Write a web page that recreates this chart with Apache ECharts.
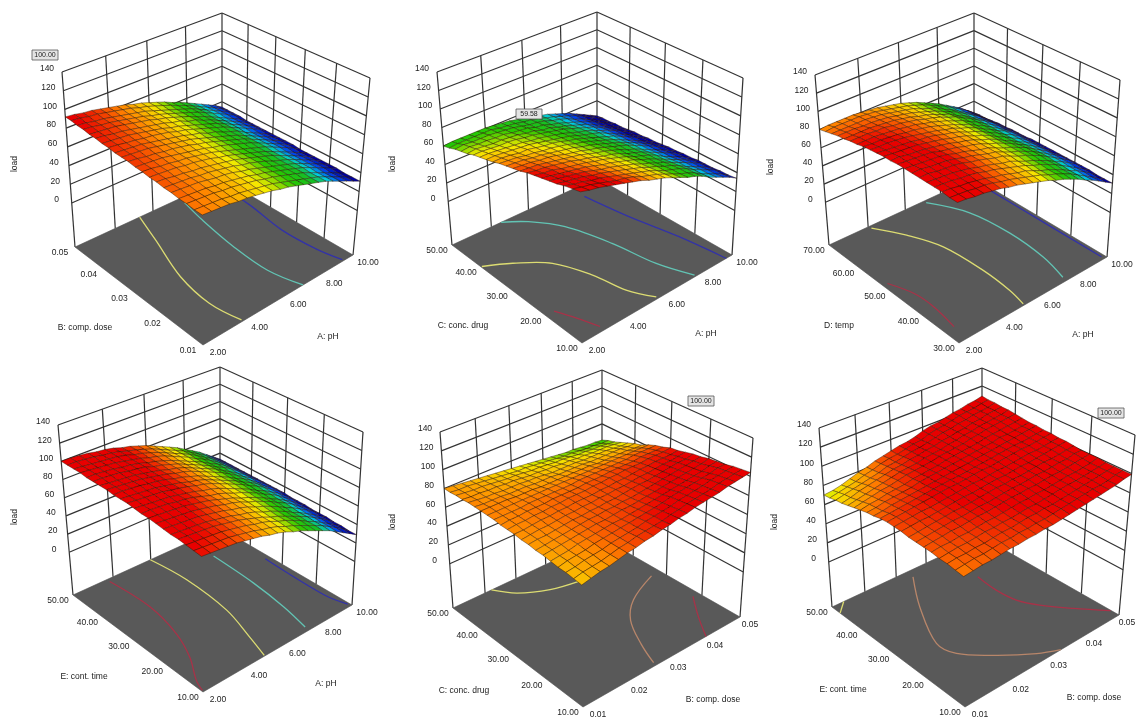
<!DOCTYPE html>
<html>
<head>
<meta charset="utf-8">
<title>load response surfaces</title>
<script src="https://cdn.jsdelivr.net/npm/echarts@6/dist/echarts.min.js"></script>
<style>
html,body{margin:0;padding:0;background:#fff;}
#main{width:1137px;height:722px;filter:blur(0.45px);}
</style>
</head>
<body>
<div id="main"></div>
<script>
// tick labels
var zTicks = [0, 20, 40, 60, 80, 100, 120, 140];
var phTicks = ['2.00', '4.00', '6.00', '8.00', '10.00'];
var doseTicks = ['0.01', '0.02', '0.03', '0.04', '0.05'];
var concTicks = ['10.00', '20.00', '30.00', '40.00', '50.00'];
var tempTicks = ['30.00', '40.00', '50.00', '60.00', '70.00'];
var timeTicks = ['10.00', '20.00', '30.00', '40.00', '50.00'];

// load values, rows run from the front edge to the left wall, columns from the front edge to the right wall
var load1 = [
[83,82,81,80,78,77,75,73,71,68,66,63,60,57,54,51,47,43,39,35,31],
[83,82,81,80,78,77,75,73,71,69,66,63,60,57,54,51,47,43,39,35,31],
[84,83,82,81,79,78,76,74,72,69,67,64,61,58,55,51,47,43,39,35,31],
[84,83,82,81,79,78,76,74,72,69,67,64,61,58,55,52,48,44,40,36,32],
[85,84,83,82,80,78,77,75,72,70,67,64,61,58,55,52,48,44,40,36,32],
[85,84,83,82,80,79,77,75,73,70,68,65,62,58,55,52,48,44,40,36,32],
[86,85,83,82,80,79,77,75,73,71,68,65,62,59,56,52,48,44,40,36,32],
[86,85,84,83,81,80,78,76,73,71,68,65,62,59,56,52,48,44,40,36,32],
[87,86,84,83,81,80,78,76,74,71,68,65,62,59,56,53,49,45,41,37,32],
[87,86,85,84,82,80,78,76,74,71,69,66,63,60,57,53,49,45,41,37,33],
[88,87,85,84,82,81,79,77,74,72,69,66,63,60,57,53,49,45,41,37,33],
[88,87,86,85,83,81,79,77,75,72,69,66,63,60,57,53,49,45,41,37,33],
[88,87,86,85,83,81,79,77,75,72,70,66,64,60,57,54,49,45,41,37,33],
[89,88,86,85,83,82,80,78,75,73,70,67,64,61,58,54,50,46,42,38,33],
[89,88,87,86,84,82,80,78,75,73,70,67,64,61,58,54,50,46,42,38,33],
[90,89,87,86,84,82,80,78,76,73,71,67,65,61,58,54,50,46,42,38,33],
[90,89,88,87,85,83,81,79,76,74,71,68,65,61,58,54,50,46,42,38,33],
[91,90,88,87,85,83,81,79,76,74,71,68,65,62,59,55,51,47,43,39,34],
[91,90,88,87,85,83,81,79,77,74,71,68,65,62,59,55,51,47,43,39,34],
[92,91,89,88,86,84,82,80,77,75,72,69,66,62,59,55,51,47,43,39,34],
[92,91,89,88,86,84,82,80,77,75,72,69,66,62,59,55,51,47,43,39,34]
];
var load2 = [
[105,102,100,97,94,91,88,85,81,78,75,71,67,63,60,56,51,47,43,39,34],
[103,100,98,95,92,89,87,84,80,77,74,70,66,62,59,55,50,46,42,38,33],
[101,98,96,93,91,88,85,82,79,76,73,69,65,62,59,55,50,46,42,38,33],
[98,96,94,92,89,87,84,81,78,75,72,68,65,61,58,54,49,45,41,37,32],
[96,94,92,90,88,85,82,80,77,74,71,67,64,60,57,53,49,45,41,37,32],
[94,92,90,88,86,84,81,78,76,73,70,67,63,60,56,52,48,44,40,36,32],
[92,90,89,86,84,82,80,77,75,72,69,66,62,59,56,52,47,43,39,35,31],
[90,88,87,85,83,81,78,76,73,70,68,65,61,58,55,51,47,43,39,35,31],
[87,86,85,83,81,79,77,75,72,69,67,64,61,57,54,50,46,42,38,34,30],
[85,84,83,81,80,78,75,73,71,68,66,63,60,57,54,50,46,42,38,34,30],
[83,82,81,79,78,76,74,72,70,67,65,62,59,56,53,49,45,41,37,33,29],
[81,80,79,77,76,74,73,71,69,66,64,61,58,55,52,48,44,40,36,32,28],
[78,78,77,75,75,73,71,70,68,65,63,60,57,54,51,48,44,40,36,32,28],
[76,76,75,74,73,72,70,68,66,64,62,59,56,54,51,47,43,39,35,31,27],
[74,74,73,72,71,70,68,67,65,63,61,58,55,53,50,46,43,39,35,31,27],
[72,72,71,70,70,69,67,66,64,62,60,58,55,52,49,46,42,38,34,30,26],
[69,70,69,68,68,67,66,64,63,60,59,56,54,51,48,45,41,37,33,29,25],
[67,68,67,67,66,66,64,63,62,59,58,55,53,50,47,44,41,37,33,29,25],
[65,66,65,65,65,64,63,62,60,58,57,55,52,50,47,43,40,36,32,28,24],
[62,63,63,63,63,63,61,60,59,57,56,54,51,49,46,43,40,36,32,28,24],
[60,61,61,61,61,61,60,59,58,56,55,53,50,48,45,42,39,35,31,27,23]
];
var load3 = [
[95,94,92,91,89,87,84,82,79,76,73,70,66,63,59,55,50,46,41,36,31],
[95,94,93,91,90,88,85,83,80,77,74,71,67,64,60,56,51,46,41,36,31],
[96,95,93,92,90,88,85,83,80,77,75,71,67,64,60,56,51,47,42,37,31],
[96,95,94,92,91,89,86,84,81,78,75,72,68,65,61,57,52,47,42,37,32],
[96,95,94,93,91,89,86,84,81,78,76,72,68,65,61,57,52,48,43,38,32],
[96,96,94,93,92,90,87,85,82,79,77,73,69,66,62,58,53,48,43,38,32],
[96,96,94,93,92,90,87,85,82,79,77,73,69,66,62,58,53,48,43,38,32],
[96,95,94,93,92,90,87,85,82,79,77,73,69,66,62,58,53,48,43,37,32],
[96,95,94,93,92,89,87,85,82,80,77,73,70,66,62,57,53,48,43,37,32],
[95,95,93,92,91,89,87,85,82,80,77,73,70,66,61,57,52,48,43,37,32],
[95,94,93,92,91,89,87,85,82,80,77,73,70,66,61,57,52,48,43,37,32],
[94,93,92,91,90,88,87,85,82,80,77,73,70,66,61,57,52,48,43,37,32],
[93,92,92,91,90,88,86,84,82,79,77,73,70,66,61,57,52,48,43,37,31],
[92,91,91,90,89,87,86,84,82,79,76,73,69,66,61,57,52,47,42,37,31],
[90,90,90,89,88,87,85,84,81,79,76,73,69,66,61,57,52,47,42,36,31],
[89,89,89,88,88,86,85,83,81,78,76,73,69,66,61,57,52,47,42,36,30],
[87,87,87,87,86,85,84,82,80,77,75,72,68,65,60,56,51,46,41,35,30],
[86,86,86,85,85,84,83,81,79,77,74,71,68,64,60,56,51,46,41,35,29],
[84,84,84,84,84,83,82,80,78,76,74,70,67,64,59,55,50,45,40,34,28],
[82,83,83,83,83,82,81,79,77,75,73,70,67,63,59,55,50,45,40,34,28],
[80,81,81,81,81,80,79,78,76,74,72,69,66,62,58,54,49,44,39,33,27]
];
var load4 = [
[90,89,88,87,86,84,82,80,77,75,72,68,65,61,57,53,49,44,39,34,29],
[91,90,89,88,87,85,83,81,78,76,73,69,66,62,58,54,50,45,40,35,29],
[92,91,90,89,88,86,84,82,79,77,74,70,67,63,59,54,50,45,40,35,30],
[93,92,91,90,89,87,85,83,80,77,74,70,67,63,59,55,51,46,41,36,30],
[93,92,91,90,89,87,85,83,80,78,75,71,68,64,60,55,51,46,41,36,31],
[94,93,92,91,90,88,86,84,81,79,76,72,69,65,61,56,52,47,42,37,31],
[95,94,93,92,91,89,87,85,82,80,77,73,70,66,62,57,53,48,42,37,31],
[96,95,94,93,92,90,88,86,83,80,77,73,70,66,62,57,53,48,43,37,32],
[96,96,95,94,92,91,89,86,83,81,78,74,71,67,63,58,54,49,43,38,32],
[97,96,95,94,93,91,89,87,84,82,79,75,71,67,63,58,54,49,44,38,32],
[98,97,96,95,94,92,90,88,85,83,80,76,72,68,64,59,55,50,44,39,33],
[98,97,96,95,94,92,90,88,85,83,80,76,72,68,64,59,55,50,44,39,33],
[98,98,97,96,94,93,91,88,86,83,80,76,72,68,64,59,55,50,44,39,33],
[99,98,97,96,95,93,91,89,86,84,81,77,73,69,65,60,55,50,45,39,33],
[99,98,97,96,95,93,91,89,86,84,81,77,73,69,65,60,55,50,45,39,33],
[99,99,98,97,95,94,92,89,87,84,81,77,73,69,65,60,56,51,45,39,33],
[99,99,98,97,95,94,92,89,87,84,81,77,73,69,65,60,56,51,45,39,33],
[100,99,98,97,96,94,92,90,87,85,82,78,74,70,65,61,56,51,45,39,33],
[100,99,98,97,96,95,93,90,88,85,82,78,74,70,66,61,56,51,45,39,33],
[100,100,99,98,96,95,93,90,88,85,82,78,74,70,66,61,56,51,45,39,33],
[100,100,99,98,96,95,93,90,88,85,82,78,74,70,66,61,56,51,45,39,33]
];
var load5 = [
[75,77,79,80,82,84,85,87,88,90,91,93,94,96,97,98,99,101,102,103,104],
[76,78,79,80,82,84,85,87,88,89,90,92,93,95,96,97,98,100,101,102,103],
[77,78,80,81,82,84,85,86,87,89,90,91,92,94,95,96,97,99,100,101,102],
[77,79,80,81,83,84,85,86,87,88,89,90,91,93,94,95,96,97,98,100,100],
[78,79,80,82,83,84,85,86,86,87,88,89,90,91,92,93,94,95,96,98,99],
[79,80,81,82,83,84,85,85,86,87,87,88,89,90,91,92,93,94,95,96,98],
[79,80,81,82,83,84,85,85,86,86,87,87,88,89,90,91,92,93,94,95,96],
[80,81,81,82,83,84,84,85,85,86,86,87,88,89,89,90,91,92,93,93,95],
[80,81,82,82,83,84,84,85,85,86,86,87,87,88,89,89,90,91,91,92,93],
[81,81,82,83,83,84,84,85,85,85,86,86,87,87,88,89,89,90,90,90,91],
[81,82,82,83,83,84,84,85,85,85,86,86,87,87,88,88,88,89,89,89,90],
[81,82,82,83,83,83,84,84,84,84,85,85,85,86,86,86,86,87,87,87,87],
[82,82,82,82,83,83,83,83,83,83,84,84,84,84,84,84,84,85,85,85,85],
[82,82,82,82,82,82,82,82,82,82,82,82,82,82,82,82,82,82,82,82,82],
[82,82,82,82,81,81,81,80,80,80,80,80,80,80,79,79,79,79,79,78,78],
[82,81,81,81,80,80,80,79,79,79,78,78,78,78,77,77,77,77,77,76,76],
[82,81,80,80,79,79,79,78,78,77,76,76,76,76,75,75,75,75,74,73,73],
[81,80,80,79,79,78,78,77,76,76,75,75,74,74,73,73,72,72,72,71,70],
[81,80,79,79,78,77,76,76,75,74,74,73,72,72,71,70,70,69,69,68,67],
[80,79,79,78,77,76,75,74,73,73,72,71,70,69,68,68,67,66,66,65,65],
[80,79,78,77,76,75,74,73,72,71,70,69,68,67,66,65,65,64,63,63,62]
];
var load6 = [
[82,83,84,84,85,86,86,87,87,88,88,89,90,91,92,93,94,95,96,98,99],
[83,84,85,85,86,87,87,88,88,89,89,90,91,92,93,94,95,95,96,98,99],
[84,85,85,86,86,87,88,88,89,90,90,91,91,92,93,94,95,96,97,98,99],
[84,85,86,86,87,88,88,89,89,90,91,91,92,93,94,95,95,96,97,98,99],
[85,86,86,87,87,88,89,89,90,91,92,92,93,93,94,95,96,96,97,98,100],
[85,86,87,88,88,89,90,90,91,92,93,93,94,94,95,96,96,97,98,99,100],
[85,86,87,88,89,89,90,91,91,92,93,94,94,95,96,96,97,98,98,100,100],
[85,86,87,88,89,90,90,91,92,93,94,94,95,95,96,97,98,98,99,100,101],
[86,87,88,88,89,90,91,92,92,93,94,95,95,96,97,97,98,99,100,101,102],
[86,87,88,89,89,90,91,92,93,94,94,95,96,96,97,98,99,99,100,101,102],
[86,87,88,89,90,91,92,93,93,94,95,96,96,97,98,99,100,100,101,102,103],
[85,86,87,88,89,90,91,92,93,93,94,95,96,97,98,99,100,100,101,102,103],
[83,84,86,87,88,89,90,91,92,93,94,95,96,97,98,99,100,101,102,103,104],
[82,83,85,86,87,88,90,91,92,93,94,95,96,97,98,99,101,101,102,103,104],
[80,82,83,85,86,87,89,90,91,92,94,95,96,97,98,100,101,102,103,104,105],
[78,80,82,84,85,87,89,90,91,92,94,95,96,97,99,100,102,103,104,105,106],
[76,78,80,82,84,86,88,89,90,92,93,94,96,97,99,100,102,103,104,105,107],
[74,76,79,81,83,85,87,88,90,91,93,94,96,97,99,100,102,103,105,106,107],
[73,75,77,79,81,83,86,87,89,91,92,94,96,98,99,101,102,104,105,106,108],
[71,73,75,77,80,82,85,87,88,90,92,93,96,98,99,101,103,104,105,107,108],
[70,71,73,76,79,81,84,86,88,90,91,93,96,98,99,101,103,104,106,107,109]
];

// contour levels on the floor: level, then [column position, row position] pairs
var contours1 = [
[75, [[0.41,1],[0.34,0.77],[0.24,0.45],[0.21,0.2],[0.24,0.01]]],
[55, [[0.68,0.95],[0.64,0.75],[0.6,0.46],[0.59,0.2],[0.635,0]]],
[37, [[0.95,1],[0.93,0.69],[0.89,0.4],[0.9,0.16],[0.93,0.01]]]
];
var contours2 = [
[98, [[0.05,0.25],[0.095,0.144],[0.135,0.03]]],
[75, [[0.005,0.75],[0.136,0.67],[0.283,0.54],[0.367,0.337],[0.407,0.144],[0.477,0.013]]],
[55, [[0.315,1],[0.427,0.908],[0.541,0.744],[0.621,0.47],[0.666,0.2],[0.737,0.01]]],
[37, [[0.815,0.9],[0.857,0.595],[0.92,0.286],[0.957,0]]]
];
var contours3 = [
[98, [[0.027,0.553],[0.075,0.408],[0.081,0.269],[0.058,0.1]]],
[75, [[0.256,0.98],[0.355,0.81],[0.431,0.607],[0.45,0.327],[0.438,0.125],[0.415,0.01]]],
[55, [[0.63,0.98],[0.743,0.752],[0.774,0.473],[0.755,0.211],[0.708,0.03]]],
[37, [[0.98,0.9],[0.98,0.5],[0.98,0.02]]]
];
var contours4 = [
[98, [[0.211,0.976],[0.227,0.663],[0.184,0.405],[0.116,0.227],[0.03,0.08],[0.005,0.01]]],
[75, [[0.497,1],[0.52,0.725],[0.495,0.388],[0.43,0.152],[0.385,0.005]]],
[55, [[0.777,0.804],[0.761,0.472],[0.729,0.22],[0.688,0.03]]],
[37, [[0.97,0.6],[0.96,0.15],[0.99,0.02]]]
];
var contours5 = [
[75, [[0.24,1],[0.322,0.888],[0.467,0.8],[0.63,0.758]]],
[88, [[0.937,0.545],[0.72,0.449],[0.59,0.331],[0.497,0.159],[0.443,0.02]]],
[98, [[0.96,0.273],[0.853,0.133],[0.765,0]]]
];
var contours6 = [
[75, [[0,0.93],[0.07,1]]],
[88, [[0.465,0.942],[0.322,0.708],[0.194,0.425],[0.214,0.305],[0.342,0.17],[0.487,0.055],[0.591,0]]],
[98, [[0.715,0.717],[0.702,0.562],[0.717,0.43],[0.773,0.32],[0.876,0.188],[0.997,0.052]]]
];

var Z_FLOOR = -47, Z_TOP = 140;
var contourColors = {37: '#3232a8', 55: '#62c4b4', 75: '#dcdc72', 88: '#b8866a', 98: '#a83248'};
var colorStops = [[34,0,0,160],[42,0,70,240],[49,0,205,225],[55,20,190,40],[63,40,200,0],[72,245,235,0],[82,255,130,0],[91,232,0,0]];

// box corners of each plot, titles and label places
var panels = [
    {load: load1, contours: contours1, left: doseTicks, right: phTicks, leftName: 'B: comp. dose', rightName: 'A: pH',
     L: [75,247], R: [353,255], F: [203,345], B: [222,179], TL: [62,72], TR: [370,78], TF: [202,158], TB: [222,13],
     leftDiv: 4, rightDiv: 5, leftPos: [85,328], rightPos: [328,337], zPos: [15,164], rightGap: 15, flag: [45,55,'100.00']},
    {load: load2, contours: contours2, left: concTicks, right: phTicks, leftName: 'C: conc. drug', rightName: 'A: pH',
     L: [452,245], R: [732,255], F: [582,343], B: [597,178], TL: [437,72], TR: [743,78], TF: [580,157], TB: [597,12],
     leftDiv: 4, rightDiv: 4, leftPos: [463,326], rightPos: [706,334], zPos: [393,164], rightGap: 15, flag: [529,114,'59.58']},
    {load: load3, contours: contours3, left: tempTicks, right: phTicks, leftName: 'D: temp', rightName: 'A: pH',
     L: [829,245], R: [1107,257], F: [959,343], B: [974,178], TL: [815,75], TR: [1120,80], TF: [957,158], TB: [974,13],
     leftDiv: 4, rightDiv: 4, leftPos: [839,326], rightPos: [1083,335], zPos: [771,167], rightGap: 15},
    {load: load4, contours: contours4, left: timeTicks, right: phTicks, leftName: 'E: cont. time', rightName: 'A: pH',
     L: [73,595], R: [352,605], F: [203,692], B: [220,528], TL: [58,425], TR: [363,432], TF: [201,507], TB: [220,367],
     leftDiv: 4, rightDiv: 4, leftPos: [84,677], rightPos: [326,684], zPos: [15,517], rightGap: 15},
    {load: load5, contours: contours5, left: concTicks, right: doseTicks, leftName: 'C: conc. drug', rightName: 'B: comp. dose',
     L: [453,608], R: [740,617], F: [583,707], B: [602,538], TL: [440,432], TR: [753,438], TF: [581,520], TB: [602,370],
     leftDiv: 5, rightDiv: 4, leftPos: [464,691], rightPos: [713,700], zPos: [393,522], rightGap: 10, flag: [701,401,'100.00']},
    {load: load6, contours: contours6, left: timeTicks, right: doseTicks, leftName: 'E: cont. time', rightName: 'B: comp. dose',
     L: [832,607], R: [1119,615], F: [965,707], B: [982,537], TL: [819,428], TR: [1135,435], TF: [963,518], TB: [982,368],
     leftDiv: 5, rightDiv: 4, leftPos: [843,690], rightPos: [1094,698], zPos: [775,522], rightGap: 8, flag: [1111,413,'100.00']}
];

// plane mapping of the unit square on four corners
function quadMap(F, R, L, B) {
    var dx = B[0] - R[0] - L[0] + F[0], dy = B[1] - R[1] - L[1] + F[1];
    var x1 = R[0] - B[0], y1 = R[1] - B[1], x2 = L[0] - B[0], y2 = L[1] - B[1];
    var det = x1 * y2 - x2 * y1;
    var g = (dx * y2 - x2 * dy) / det, h = (x1 * dy - dx * y1) / det;
    return function (u, v) {
        var w = 1 + g * u + h * v;
        return [
            (F[0] + (R[0] * (1 + g) - F[0]) * u + (L[0] * (1 + h) - F[0]) * v) / w,
            (F[1] + (R[1] * (1 + g) - F[1]) * u + (L[1] * (1 + h) - F[1]) * v) / w
        ];
    };
}

function makeProjector(p) {
    var floor = quadMap(p.F, p.R, p.L, p.B);
    var top = quadMap(p.TF, p.TR, p.TL, p.TB);
    return function (u, v, z) {
        var a = floor(u, v), b = top(u, v);
        var t = (z - Z_FLOOR) / (Z_TOP - Z_FLOOR);
        return [a[0] + (b[0] - a[0]) * t, a[1] + (b[1] - a[1]) * t];
    };
}

function colorOf(z) {
    if (z <= colorStops[0][0]) return 'rgb(' + colorStops[0].slice(1).join(',') + ')';
    for (var i = 1; i < colorStops.length; i++) {
        if (z <= colorStops[i][0]) {
            var a = colorStops[i - 1], b = colorStops[i], t = (z - a[0]) / (b[0] - a[0]);
            return 'rgb(' + Math.round(a[1] + (b[1] - a[1]) * t) + ',' + Math.round(a[2] + (b[2] - a[2]) * t) + ',' + Math.round(a[3] + (b[3] - a[3]) * t) + ')';
        }
    }
    return 'rgb(' + colorStops[colorStops.length - 1].slice(1).join(',') + ')';
}

function customSeries(items, render) {
    return {
        type: 'custom',
        coordinateSystem: 'cartesian2d',
        silent: true,
        animation: false,
        clip: false,
        data: items.map(function (it, i) { return [i, i]; }),
        renderItem: function (params, api) {
            return render(items[params.dataIndex], api);
        }
    };
}

var series = [];
panels.forEach(function (p) {
    var project = makeProjector(p);
    var textStyle = function (text, x, y, size) {
        return {text: text, x: x, y: y, fill: '#222', font: (size || 8.5) + 'px "Liberation Sans", Arial, sans-serif', align: 'center', verticalAlign: 'middle'};
    };

    // wall grid
    var wall = [];
    zTicks.forEach(function (z) {
        wall.push([0, 1, z, 1, 1, z]);
        wall.push([1, 1, z, 1, 0, z]);
    });
    var i;
    for (i = 0; i <= p.leftDiv; i++) wall.push([i / p.leftDiv, 1, Z_FLOOR, i / p.leftDiv, 1, Z_TOP]);
    for (i = 0; i < p.rightDiv; i++) wall.push([1, i / p.rightDiv, Z_FLOOR, 1, i / p.rightDiv, Z_TOP]);
    series.push(customSeries(wall, function (w, api) {
        var a = api.coord(project(w[0], w[1], w[2])), b = api.coord(project(w[3], w[4], w[5]));
        return {type: 'line', shape: {x1: a[0], y1: a[1], x2: b[0], y2: b[1]}, style: {stroke: '#333', lineWidth: 1.2}};
    }));

    // floor
    series.push(customSeries([0], function (w, api) {
        var pts = [[0, 0], [1, 0], [1, 1], [0, 1]].map(function (c) { return api.coord(project(c[0], c[1], Z_FLOOR)); });
        return {type: 'polygon', shape: {points: pts}, style: {fill: '#595959', stroke: '#4c4c4c', lineWidth: 0.6}};
    }));

    // contours
    series.push(customSeries(p.contours, function (c, api) {
        var pts = c[1].map(function (q) { return api.coord(project(q[0], q[1], Z_FLOOR)); });
        return {type: 'polyline', shape: {points: pts, smooth: 0.35}, style: {stroke: contourColors[c[0]], fill: null, lineWidth: 1.3}};
    }));

    // surface cells, back corner first
    var cells = [];
    var n = p.load.length - 1, k, j;
    for (k = n - 1; k >= 0; k--) for (j = n - 1; j >= 0; j--) cells.push([j, k]);
    series.push(customSeries(cells, function (c, api) {
        var j = c[0], k = c[1], t = p.load;
        var corners = [[j, k], [j + 1, k], [j + 1, k + 1], [j, k + 1]];
        var sum = 0;
        var pts = corners.map(function (q) {
            var z = t[q[1]][q[0]];
            sum += z;
            return api.coord(project(q[0] / n, q[1] / n, z));
        });
        return {type: 'polygon', shape: {points: pts}, style: {fill: colorOf(sum / 4), stroke: 'rgba(40,20,0,0.6)', lineWidth: 0.7}};
    }));

    // labels
    var labels = [];
    zTicks.forEach(function (z) { labels.push({kind: 'z', z: z}); });
    p.left.forEach(function (t, m) { labels.push({kind: 'left', text: t, at: m / (p.left.length - 1)}); });
    p.right.forEach(function (t, m) { labels.push({kind: 'right', text: t, at: m / (p.right.length - 1)}); });
    labels.push({kind: 'name', text: p.leftName, pos: p.leftPos});
    labels.push({kind: 'name', text: p.rightName, pos: p.rightPos});
    labels.push({kind: 'load', pos: p.zPos});
    if (p.flag) labels.push({kind: 'flag', text: p.flag[2], pos: p.flag});
    series.push(customSeries(labels, function (l, api) {
        var c;
        if (l.kind === 'z') {
            c = api.coord(project(0, 1, l.z));
            return {type: 'text', style: textStyle(String(l.z), c[0] - 15, c[1] - 3)};
        }
        if (l.kind === 'left') {
            c = api.coord(project(0, l.at, Z_FLOOR));
            return {type: 'text', style: textStyle(l.text, c[0] - 15, c[1] + 6)};
        }
        if (l.kind === 'right') {
            c = api.coord(project(l.at, 0, Z_FLOOR));
            return {type: 'text', style: textStyle(l.text, c[0] + 15 + (p.rightGap - 15) * l.at, c[1] + 8)};
        }
        c = api.coord(l.pos);
        if (l.kind === 'name') return {type: 'text', style: textStyle(l.text, c[0], c[1])};
        if (l.kind === 'load') {
            return {type: 'text', x: c[0], y: c[1], rotation: Math.PI / 2, style: textStyle('load', 0, 0)};
        }
        return {type: 'group', children: [
            {type: 'rect', shape: {x: c[0] - 13, y: c[1] - 5, width: 26, height: 10}, style: {fill: '#e4e4e4', stroke: '#555', lineWidth: 0.8}},
            {type: 'text', style: textStyle(l.text, c[0], c[1], 7)}
        ]};
    }));
});

var chart = echarts.init(document.getElementById('main'), null, {renderer: 'canvas'});
chart.setOption({
    animation: false,
    backgroundColor: '#fff',
    grid: {left: 0, right: 0, top: 0, bottom: 0},
    xAxis: {type: 'value', min: 0, max: 1137, show: false},
    yAxis: {type: 'value', min: 0, max: 722, inverse: true, show: false},
    series: series
});
</script>
</body>
</html>
